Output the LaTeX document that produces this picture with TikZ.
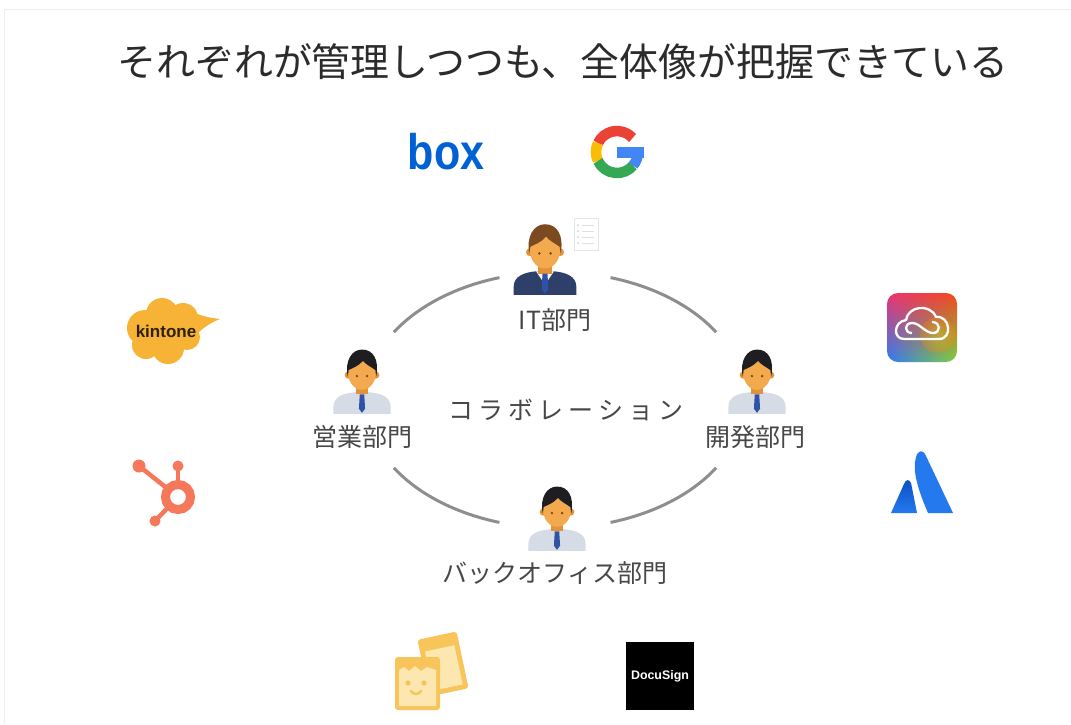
\documentclass[tikz,border=0pt]{standalone}
\usepackage{fontspec}
\setmainfont{Noto Sans CJK JP}
\newfontfamily\widejp[LetterSpace=20]{Noto Sans CJK JP}
\newfontfamily\logofont{Liberation Sans}
\usetikzlibrary{calc}
\usetikzlibrary{shadings}

\definecolor{titlegray}{HTML}{2B2B2B}
\definecolor{labelgray}{HTML}{474747}
\definecolor{ringgray}{HTML}{8E8E8E}
\definecolor{framegray}{HTML}{EDEDED}
\definecolor{skin}{HTML}{F3AA4E}
\definecolor{skindark}{HTML}{E29339}
\definecolor{eyebrown}{HTML}{7A4516}
\definecolor{hairblack}{HTML}{1E1E22}
\definecolor{hairbrown}{HTML}{7B4A20}
\definecolor{suitnavy}{HTML}{2E3F6A}
\definecolor{shirtgray}{HTML}{D6DCE6}
\definecolor{tieblue}{HTML}{2F51A6}
\definecolor{boxblue}{HTML}{0061D5}
\definecolor{gred}{HTML}{EA4335}
\definecolor{gyellow}{HTML}{FBBC05}
\definecolor{ggreen}{HTML}{34A853}
\definecolor{gblue}{HTML}{4285F4}
\definecolor{kintoneorange}{HTML}{F7B335}
\definecolor{kintonetext}{HTML}{2E2008}
\definecolor{huborange}{HTML}{F5785A}
\definecolor{atlblue}{HTML}{2479EE}
\definecolor{atldark}{HTML}{0B50C4}
\definecolor{cardyellow}{HTML}{F7C55A}
\definecolor{cardcream}{HTML}{FCE7B0}
\definecolor{ccpink}{HTML}{EC3470}
\definecolor{ccred}{HTML}{F1491F}
\definecolor{ccblue}{HTML}{2F7BF5}
\definecolor{ccgreen}{HTML}{7CD13F}

\begin{document}
\begin{tikzpicture}
  [
    x=1pt, y=-1pt,
    ring/.style    = {draw=ringgray, line width=3pt},
    dept/.style    = {text=labelgray, inner sep=0pt, font=\fontsize{25}{25}\selectfont},
    collab/.style  = {text=labelgray, inner sep=0pt, font=\widejp\fontsize{25}{25}\selectfont},
    gpart/.style   = {line width=10.5pt},
    hubarm/.style  = {draw=huborange, line width=4.5pt},
  ]

  \useasboundingbox (0,0) rectangle (1071,724);
  \fill[white] (0,0) rectangle (1071,724);
  \draw[framegray, line width=1pt] (4,724) -- (4,9) -- (1071,9);

  % heading
  \node (title) at (563,62) [text=titlegray, inner sep=0pt, font=\fontsize{38.9}{38.9}\selectfont]
    {それぞれが管理しつつも、全体像が把握できている};

  % the ring of departments
  \coordinate (ring) at (555,400);
  \foreach \a/\b in {212/253, 287/328, 32/73, 107/148}
    \draw[ring] ($(ring)+(\a:190 and 128)$) arc [start angle=\a, end angle=\b, x radius=190, y radius=128];

  % little checklist beside the IT person
  \draw[black!10, fill=white] (574,218) rectangle (598,250);
  \foreach \yy in {225,231,237,243}
    {
      \fill[black!18] (578,\yy) circle (1);
      \draw[black!12, line width=1pt] (582,\yy) -- (594,\yy);
    }

  % people
  \foreach \nm/\px/\py/\sc/\hair/\shirt/\collar in
    {it/545/250/1.12/hairbrown/suitnavy/white,
     sales/362/373/1.02/hairblack/shirtgray/shirtgray,
     dev/757/373/1.02/hairblack/shirtgray/shirtgray,
     back/557/510/1.02/hairblack/shirtgray/shirtgray}
    {
      \begin{scope}[shift={(\px,\py)}, scale=\sc]
        \coordinate (\nm) at (0,0);
        % shoulders
        \fill[\shirt] (-28,40) -- (-28,33) .. controls (-28,23) and (-18,20) .. (-8,19)
          -- (8,19) .. controls (18,20) and (28,23) .. (28,33) -- (28,40) -- cycle;
        \fill[\collar] (-8,19) -- (8,19) -- (0,31) -- cycle;
        % neck and tie
        \fill[skindark] (-6,10) rectangle (6,21);
        \fill[tieblue] (-2.2,21) -- (2.2,21) -- (3,35) -- (0,39) -- (-3,35) -- cycle;
        % ears, face, hair
        \fill[skindark] (-13.5,2) circle (3.5) (13.5,2) circle (3.5);
        \fill[skin] (0,0) ellipse (13.5 and 16.5);
        \fill[\hair] (-14,3) .. controls (-17,-12) and (-10,-23) .. (0,-23)
          .. controls (11,-23) and (17,-13) .. (14,3) -- (13,-3)
          .. controls (9,-6) and (4,-8) .. (1,-12)
          .. controls (-3,-7) and (-9,-5) .. (-13,-3) -- cycle;
        \fill[eyebrown] (-5,3) circle (1.3) (5,3) circle (1.3);
      \end{scope}
    }

  \node[dept] (itlbl) at (555,320) {IT部門};
  \node[dept] (saleslbl) at (362,437) {営業部門};
  \node[dept] (devlbl) at (755,437) {開発部門};
  \node[dept] (backlbl) at (555,573) {バックオフィス部門};
  \node[collab] (collab) at (566,410) {コラボレーション};

  % box
  \node (box) at (446,152) [text=boxblue, inner sep=0pt]
    {\scalebox{0.86}[1]{\logofont\bfseries\fontsize{50}{50}\selectfont box}};

  % google G
  \coordinate (gcen) at (617,152);
  \draw[gpart, gred]    ($(gcen)+(318:21)$) arc [start angle=318, end angle=205, radius=21];
  \draw[gpart, gyellow] ($(gcen)+(205:21)$) arc [start angle=205, end angle=155, radius=21];
  \draw[gpart, ggreen]  ($(gcen)+(155:21)$) arc [start angle=155, end angle=40, radius=21];
  \draw[gpart, gblue]   ($(gcen)+(40:21)$) arc [start angle=40, end angle=0, radius=21];
  \fill[gblue] (617,147) rectangle (643.5,157.5);

  % kintone
  \fill[kintoneorange]
    (145,328) circle (18) (162,314) circle (16) (183,318) circle (15)
    (187,337) circle (13) (168,348) circle (16) (146,345) circle (14)
    (165,332) circle (20);
  \fill[kintoneorange] (192,312) .. controls (202,316) and (210,318) .. (220,319)
    .. controls (210,323) and (203,328) .. (197,334) -- cycle;
  \node (kintone) at (166,331) [text=kintonetext, inner sep=0pt]
    {\logofont\bfseries\fontsize{17}{17}\selectfont kintone};

  % hubspot
  \coordinate (hub) at (178,497);
  \draw[hubarm] (hub) -- (178,468);
  \draw[hubarm] (hub) -- (139,466);
  \draw[hubarm] (hub) -- (155,521);
  \fill[huborange] (178,466) circle (5.5) (139,466) circle (6.5) (155,521) circle (5.5);
  \draw[huborange, line width=9pt, fill=white] (hub) circle (12.5);

  % creative cloud
  \begin{scope}
    \clip[rounded corners=11pt] (887,293) rectangle (957,362);
    \shade[upper left=ccpink, upper right=ccred,
           lower left=ccblue, lower right=ccgreen]
      (887,293) rectangle (957,362);
    \shade[inner color=yellow!80!orange, outer color=orange, opacity=0.3]
      (938,335) circle (18);
  \end{scope}
  \node (cc) at (922,327) [inner sep=0pt] {};
  \draw[white, line width=2.3pt, line join=round]
    (904,339) .. controls (893,339) and (893,322) .. (906,320)
    .. controls (908,306) and (930,303) .. (936,317)
    .. controls (950,315) and (953,339) .. (939,339) -- cycle;
  \draw[white, line width=2.3pt]
    (912,333) .. controls (904,333) and (904,323) .. (912,323)
    .. controls (920,323) and (925,333) .. (933,333)
    .. controls (941,333) and (941,322) .. (932,322);

  % atlassian
  \fill[atlblue] (928,513) .. controls (918,490) and (912,470) .. (916,457)
    .. controls (918,450) and (923,449) .. (926,456) -- (953,513) -- cycle;
  \shade[top color=atldark, bottom color=atlblue]
    (891,513) -- (904,484) .. controls (906,479) and (909,479) .. (911,483)
    -- (917,513) -- cycle;
  \node (atlassian) at (922,485) [inner sep=0pt] {};

  % face cards
  \begin{scope}[rotate around={12:(443,664)}]
    \fill[cardyellow, rounded corners=3pt] (423,635) rectangle (463,693);
    \fill[cardcream] (428,648) rectangle (458,688);
  \end{scope}
  \fill[cardyellow, rounded corners=3pt] (395,657) rectangle (440,710);
  \fill[cardcream] (399,670) -- (404,667) -- (409,671) -- (415,666) -- (421,671)
    -- (427,667) -- (436,670) -- (436,706) -- (399,706) -- cycle;
  \fill[cardyellow] (408,683) circle (2.6) (424,683) circle (2.6);
  \draw[cardyellow, line width=2.4pt, line cap=round] (411,691) .. controls (414,695) and (418,695) .. (421,691);
  \node (cards) at (430,670) [inner sep=0pt] {};

  % docusign
  \fill[black] (626,642) rectangle (694,710);
  \node (docusign) at (660,676) [text=white, inner sep=0pt]
    {\logofont\bfseries\fontsize{12.4}{12.4}\selectfont DocuSign};

\end{tikzpicture}
\end{document}
